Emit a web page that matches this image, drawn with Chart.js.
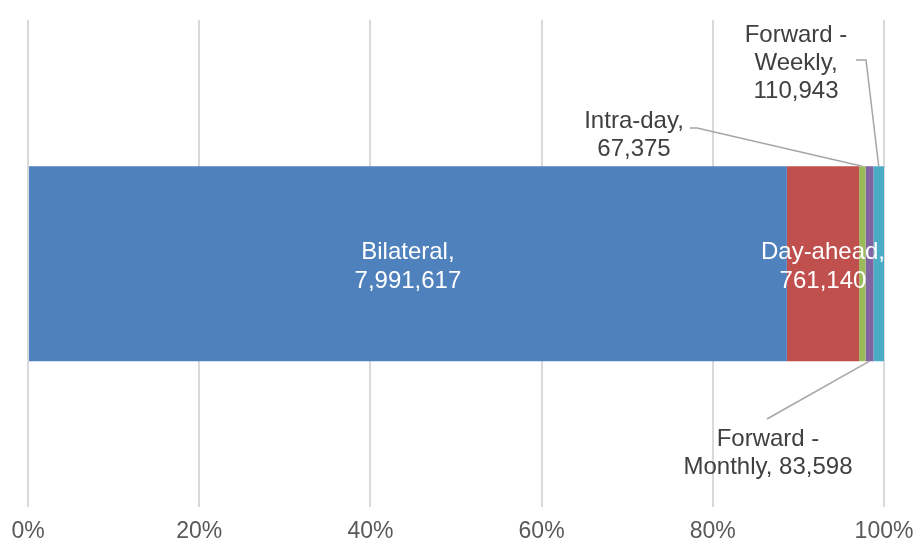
<!DOCTYPE html>
<html>
<head>
<meta charset="utf-8">
<script src="https://cdn.jsdelivr.net/npm/chart.js@4/dist/chart.umd.min.js"></script>
<style>
  html, body { margin: 0; padding: 0; background: #fff; }
  #wrap { width: 916px; height: 545px; }
</style>
</head>
<body>
<div id="wrap"><canvas id="chart" width="916" height="545"></canvas></div>
<script>
// --- DATA ---
const categories = ['Bilateral', 'Day-ahead', 'Intra-day', 'Forward - Monthly', 'Forward - Weekly'];
const volumes = [7991617, 761140, 67375, 83598, 110943];
const colors = ['#4F81BD', '#C0504D', '#9BBB59', '#8064A2', '#4BACC6'];
const tickValues = [0, 20, 40, 60, 80, 100];

const total = volumes.reduce((a, b) => a + b, 0);
const shares = volumes.map(v => v / total * 100);

// --- LABEL LAYOUT (text lines, placement, leader lines) ---
const FONT = '24px "Liberation Sans", Arial, sans-serif';
const LINE_H = 28;
const labelLayout = [
    { lines: ['Bilateral,', '7,991,617'], inside: true },
    { lines: ['Day-ahead,', '761,140'], inside: true },
    { lines: ['Intra-day,', '67,375'], x: 634, y: 128, leader: [[690, 128], [697, 128]], edge: 'top' },
    { lines: ['Forward -', 'Monthly, 83,598'], x: 768, y: 446, leader: [[767, 419]], edge: 'bottom' },
    { lines: ['Forward -', 'Weekly,', '110,943'], x: 796, y: 42, leader: [[856, 60], [866, 60]], edge: 'top' }
];

// --- DATA LABEL PLUGIN ---
const dataLabels = {
    id: 'dataLabels',
    afterDatasetsDraw(chart) {
        const ctx = chart.ctx;
        ctx.save();
        ctx.font = FONT;
        ctx.textAlign = 'center';
        ctx.textBaseline = 'alphabetic';
        chart.data.datasets.forEach((ds, i) => {
            const el = chart.getDatasetMeta(i).data[0];
            const cfg = labelLayout[i];
            const left = Math.min(el.x, el.base), right = Math.max(el.x, el.base);
            const cx = (left + right) / 2;
            if (cfg.inside) {
                ctx.fillStyle = '#FFFFFF';
                const first = el.y - 5;
                cfg.lines.forEach((t, k) => ctx.fillText(t, cx, first + k * 29));
            } else {
                // leader line
                ctx.strokeStyle = '#A6A6A6';
                ctx.lineWidth = 1.5;
                ctx.beginPath();
                cfg.leader.forEach((p, k) => k ? ctx.lineTo(p[0], p[1]) : ctx.moveTo(p[0], p[1]));
                const ey = cfg.edge === 'top' ? el.y - el.height / 2 : el.y + el.height / 2;
                ctx.lineTo(cx, ey);
                ctx.stroke();
                ctx.fillStyle = '#404040';
                cfg.lines.forEach((t, k) => ctx.fillText(t, cfg.x, cfg.y + k * LINE_H));
            }
        });
        ctx.restore();
    }
};

// --- CHART ---
new Chart(document.getElementById('chart'), {
    type: 'bar',
    data: {
        labels: [''],
        datasets: categories.map((name, i) => ({
            label: name,
            data: [shares[i]],
            backgroundColor: colors[i],
            borderWidth: 0,
            barPercentage: 0.4,
            categoryPercentage: 1
        }))
    },
    options: {
        indexAxis: 'y',
        responsive: false,
        animation: false,
        layout: { padding: { left: 28, right: 32, top: 20, bottom: -10 } },
        plugins: {
            legend: { display: false },
            tooltip: { enabled: false }
        },
        scales: {
            x: {
                stacked: true,
                min: 0,
                max: 100,
                afterBuildTicks: axis => { axis.ticks = tickValues.map(v => ({ value: v })); },
                afterFit: axis => { axis.paddingLeft = 0; axis.paddingRight = 0; },
                ticks: {
                    callback: v => v + '%',
                    color: '#595959',
                    font: { family: '"Liberation Sans", Arial, sans-serif', size: 23 },
                    padding: 10,
                    maxRotation: 0
                },
                grid: { color: '#D9D9D9', lineWidth: 2, drawTicks: false },
                border: { display: false }
            },
            y: { stacked: true, display: false }
        }
    },
    plugins: [dataLabels]
});
</script>
</body>
</html>
